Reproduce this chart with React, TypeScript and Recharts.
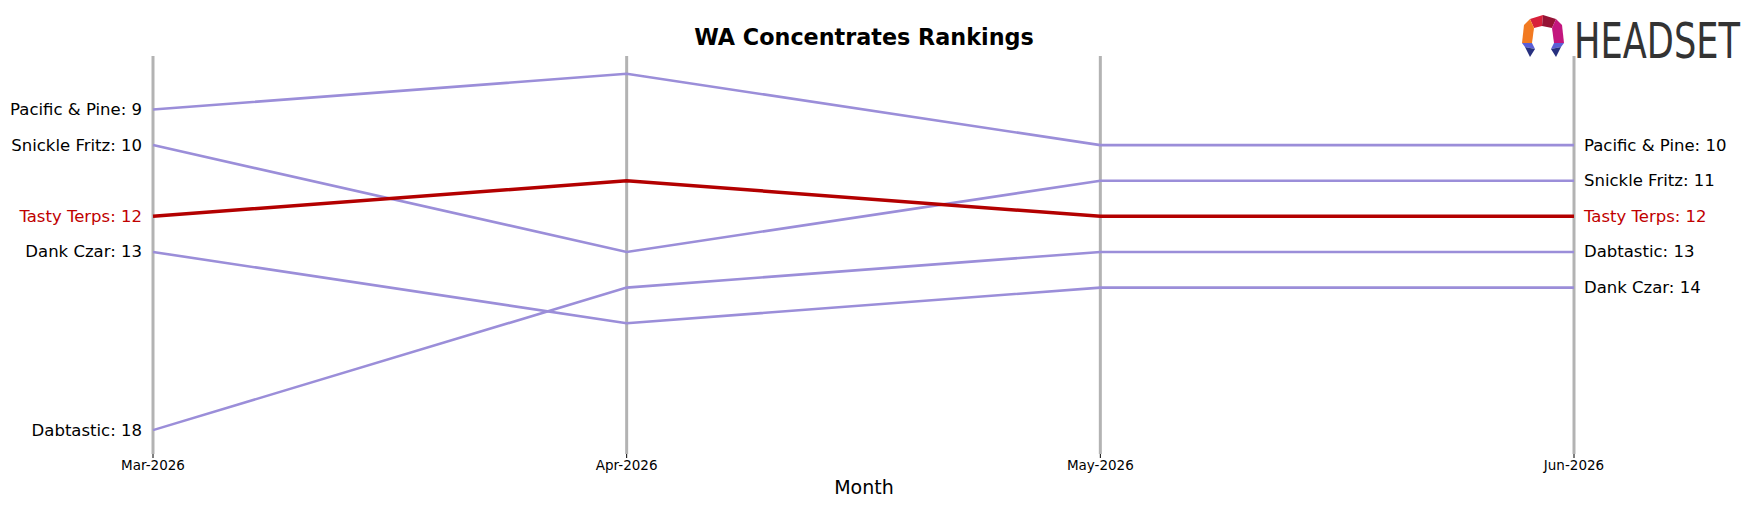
import { Line, LineChart, ReferenceLine, XAxis, YAxis } from "recharts"

const months = ["Mar-2026", "Apr-2026", "May-2026", "Jun-2026"]

const pacificPine = [9, 8, 10, 10]
const snickleFritz = [10, 13, 11, 11]
const tastyTerps = [12, 11, 12, 12]
const dankCzar = [13, 15, 14, 14]
const dabtastic = [18, 14, 13, 13]

const brands = [
  { key: "Pacific & Pine", values: pacificPine, highlight: false },
  { key: "Snickle Fritz", values: snickleFritz, highlight: false },
  { key: "Dank Czar", values: dankCzar, highlight: false },
  { key: "Dabtastic", values: dabtastic, highlight: false },
  { key: "Tasty Terps", values: tastyTerps, highlight: true },
]

const W = 1757
const H = 507
const FONT = "DejaVu Sans, sans-serif"

const chartData = months.map((m, i) => {
  const row: Record<string, string | number> = { month: m }
  brands.forEach(b => { row[b.key] = b.values[i] })
  return row
})

// label at both ends of each line
const EndLabel = (name: string, color: string) => (props: any) => {
  const { x, y, index, value } = props
  if (index === 0) {
    return (
      <text x={x - 11} y={y} textAnchor="end" dominantBaseline="central"
        fontSize={16.5} fontFamily={FONT} fill={color}>{`${name}: ${value}`}</text>
    )
  }
  if (index === months.length - 1) {
    return (
      <text x={x + 10} y={y} textAnchor="start" dominantBaseline="central"
        fontSize={16.5} fontFamily={FONT} fill={color}>{`${name}: ${value}`}</text>
    )
  }
  return null
}

function Logo() {
  return (
    <g>
      <g transform="translate(1520,14)">
        <polygon points="10,5 23,1 22,12 14,14" fill="#d8203a" />
        <polygon points="23,1 36,5 32,14 22,12" fill="#951335" />
        <polygon points="4,11 10,5 14,14 12,29 2,29" fill="#f27a21" />
        <polygon points="36,5 42,11 44,29 34,29 32,14" fill="#c3167e" />
        <polygon points="2,29 12,29 15,35 5,33" fill="#5b5fd6" />
        <polygon points="5,33 15,35 10,43" fill="#27307f" />
        <polygon points="34,29 44,29 41,33 31,35" fill="#5b5fd6" />
        <polygon points="31,35 41,33 36,43" fill="#27307f" />
      </g>
      <text transform="translate(1574,58) scale(1,1.17)" x={0} y={0} fontSize={43}
        fontFamily="Liberation Sans Narrow, DejaVu Sans Condensed, sans-serif"
        fill="#333333" textLength={166} lengthAdjust="spacingAndGlyphs">HEADSET</text>
    </g>
  )
}

export default function App() {
  return (
    <div style={{ position: "absolute", left: 0, top: 0, width: W, height: H, background: "#fff" }}>
      <LineChart width={W} height={H} data={chartData}
        margin={{ top: 56, right: 183, left: 153, bottom: 0 }}>
        <XAxis dataKey="month" axisLine={false} tickSize={4} tickLine={{ stroke: "#000" }}
          tick={{ fontSize: 13.5, fontFamily: FONT, fill: "#000" }} height={53} interval={0} />
        <YAxis hide reversed domain={[7.5, 18.67]} type="number" />
        {months.map(m => (
          <ReferenceLine key={m} x={m} stroke="#b3b3b3" strokeWidth={3} />
        ))}
        {brands.map(b => (
          <Line key={b.key} dataKey={b.key} type="linear"
            stroke={b.highlight ? "#b30000" : "#9b8ed9"}
            strokeWidth={b.highlight ? 3.5 : 2.6}
            dot={false} isAnimationActive={false}
            label={EndLabel(b.key, b.highlight ? "#c00000" : "#000000")} />
        ))}
      </LineChart>
      <svg width={W} height={H} style={{ position: "absolute", left: 0, top: 0, pointerEvents: "none" }}>
        <text x={864} y={37} textAnchor="middle" dominantBaseline="central" fontSize={22.3}
          fontWeight="bold" fontFamily={FONT} fill="#000">WA Concentrates Rankings</text>
        <text x={864} y={487} textAnchor="middle" dominantBaseline="central" fontSize={19}
          fontFamily={FONT} fill="#000">Month</text>
        <Logo />
      </svg>
    </div>
  )
}
